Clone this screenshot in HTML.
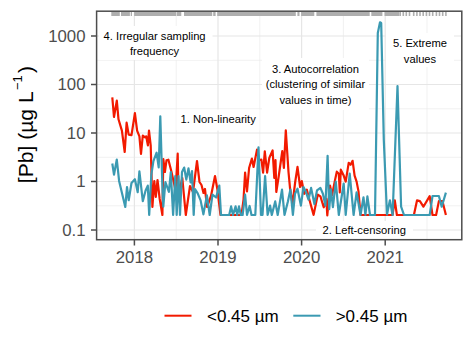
<!DOCTYPE html>
<html><head><meta charset="utf-8">
<style>
html,body{margin:0;padding:0;background:#fff;}
body{width:474px;height:355px;overflow:hidden;position:relative;font-family:"Liberation Sans",sans-serif;}
svg{position:absolute;left:0;top:0;}
</style></head><body>
<svg width="474" height="355" viewBox="0 0 474 355" font-family="Liberation Sans, sans-serif">
<rect x="0" y="0" width="474" height="355" fill="#fff"/>
<g id="grid" fill="none">
<g stroke="#EBEBEB" stroke-width="0.7">
<line x1="96.5" x2="461.5" y1="60.25" y2="60.25"/>
<line x1="96.5" x2="461.5" y1="108.75" y2="108.75"/>
<line x1="96.5" x2="461.5" y1="157.25" y2="157.25"/>
<line x1="96.5" x2="461.5" y1="205.75" y2="205.75"/>
<line y1="11" y2="240" x1="176.2" x2="176.2"/>
<line y1="11" y2="240" x1="259.8" x2="259.8"/>
<line y1="11" y2="240" x1="343.4" x2="343.4"/>
<line y1="11" y2="240" x1="427" x2="427"/>
</g>
<g stroke="#E6E6E6" stroke-width="1.2">
<line x1="96.5" x2="461.5" y1="36" y2="36"/>
<line x1="96.5" x2="461.5" y1="84.5" y2="84.5"/>
<line x1="96.5" x2="461.5" y1="133" y2="133"/>
<line x1="96.5" x2="461.5" y1="181.5" y2="181.5"/>
<line x1="96.5" x2="461.5" y1="230" y2="230"/>
<line y1="11" y2="240" x1="134.4" x2="134.4"/>
<line y1="11" y2="240" x1="218" x2="218"/>
<line y1="11" y2="240" x1="301.6" x2="301.6"/>
<line y1="11" y2="240" x1="385.2" x2="385.2"/>
</g>
</g>
<g id="data" fill="none" stroke-linejoin="round" stroke-linecap="butt" stroke-width="2.2">
<polyline stroke="#F21A00" points="112.3,97.3 114,117 116.8,100.7 118.5,119.3 121.9,130.6 124.7,152 126.6,122.7 128.7,134.6 131.5,135.1 134.9,113.1 137.1,130.6 139.4,136.3 141,154 142.8,135.5 145.1,137.4 146.2,136.3 147.9,145.3 149,130.6 150.7,145.3 152.4,207 154.3,181 155.8,197 157.5,180 159.7,199 162.4,215 163.3,159 164.9,172 166.5,160.4 168.4,159.7 171.4,171.6 175.6,190.6 177.7,153.7 178.5,194.7 182.3,178 185.8,215 190,186 193,192 197,161 199.5,182 201.5,185 203.5,193 205,189 207,207 211,196 215,176 217.5,190 220.5,215 241.5,215 243.5,200 245.1,172.6 247,191.5 249.1,168 251.9,158.6 253.6,167 257,149.6 259.2,160 261.4,159.7 263.1,172.6 264.8,151.3 267.1,172.6 269.3,158 272.6,150.4 274.3,178 275.5,160 276.3,192 278.6,177 282.3,151 283.9,168 285.8,130.3 288.5,172 290,188 292.5,204 295.2,182 297.5,166.8 300.1,187 301.8,181.1 304.3,193.8 306.8,189.6 309.4,199.7 313.6,214.9 317.8,194.6 320.4,196.3 323.7,207.3 326.3,198.9 327.3,215.5 330,185.5 332,195.4 334.9,180.6 336.8,171.7 338.8,173.7 339.8,192.4 340.8,169.7 343.7,175.6 345.7,181.6 348.7,162.8 350.6,164.8 352.6,160.8 354.6,175.6 356.6,181.6 358.5,191.4 360.5,215 392.5,215 394.8,200.3 396.9,215 413.9,215 417,200.4 419.9,201.1 423.4,206.7 429.7,196.1 432.5,215 436.1,215 438.9,201.1 442.4,201 445.9,215"/>
<polyline stroke="#3B9AB2" points="112.3,163.5 114,174.7 116.8,159.5 119.1,180.9 125.3,207 127,187 128.7,200.2 131.5,183 134.9,179.2 137.7,192.2 139.4,171.3 142.8,201.1 145.6,190.5 147.8,185.6 149.2,215 151.3,175 153.4,161.1 156.6,152.7 158.7,167.4 160.3,116.3 162.5,190 163.3,206.7 165.4,182 168.9,191.9 170.8,172 173.1,215 175.3,176 176.7,215 178.5,176 180,215 182,172 184.2,167.6 186.3,179.6 188.5,168.3 190.6,182.4 192,171.1 193.7,215 195,189.1 197.7,193.3 200.6,200.4 203.4,214.4 206.9,195.4 209.7,215 212.5,194.7 216.1,197.5 219.3,185.6 221,215 229.2,215 231.1,206.4 233,215 235.6,206.4 237.2,215 239,206.4 240.8,215 242.6,215 245.1,194.7 247,215 249.6,206 251.5,215 255.3,215 258.5,147.3 261,215 262.5,215 265.1,176 267.6,215 270.1,205.6 271.8,215 275.2,201.4 277.7,215 282,189.6 284.5,215 287.9,201.4 290.4,189.6 292.9,215 295,193.8 297.5,188.7 300.9,205.6 303.5,187 306,192.1 308.5,199.7 311.1,187.9 314.4,204 317,190.4 320.4,187.9 322.9,193.8 325.4,205.6 327.6,155.8 329.2,209.2 330.9,189.4 332.9,207.2 335.8,181.6 338.8,215 343.7,183.5 345.7,215 349.7,173.7 353.6,215 356.6,192.4 358.5,203.3 360.5,215 363.5,197.3 365.4,215 367.4,196.3 370,215 372,215 375,215 377.8,33 380,22.3 381.2,23 383.8,140 387,214.5 389.9,200.3 392.6,215 397.5,86 401.1,206.6 404,215 429.7,215 432.5,196 438.9,196 441.7,206.7 445.9,192.6"/>
</g>
<g id="rug" fill="#AEAEAE"><rect x="111.3" y="11.8" width="8.50" height="4.2"/><rect x="121" y="11.8" width="8.90" height="4.2"/><rect x="130.7" y="11.8" width="1.30" height="4.2"/><rect x="134.1" y="11.8" width="42.30" height="4.2"/><rect x="177" y="11.8" width="4.30" height="4.2"/><rect x="184" y="11.8" width="28.20" height="4.2"/><rect x="213.2" y="11.8" width="2.40" height="4.2"/><rect x="217.2" y="11.8" width="78.60" height="4.2"/><rect x="297.4" y="11.8" width="2.10" height="4.2"/><rect x="301.1" y="11.8" width="13.20" height="4.2"/><rect x="316.4" y="11.8" width="53.30" height="4.2"/><rect x="371.3" y="11.8" width="11.10" height="4.2"/><rect x="384.5" y="11.8" width="14.80" height="4.2"/><rect x="399.40" y="11.8" width="1.6" height="4.2"/><rect x="402.50" y="11.8" width="1.6" height="4.2"/><rect x="405.50" y="11.8" width="1.6" height="4.2"/><rect x="408.70" y="11.8" width="1.6" height="4.2"/><rect x="412.90" y="11.8" width="1.6" height="4.2"/><rect x="416.10" y="11.8" width="1.6" height="4.2"/><rect x="419.20" y="11.8" width="1.6" height="4.2"/><rect x="422.40" y="11.8" width="1.6" height="4.2"/><rect x="425.60" y="11.8" width="1.6" height="4.2"/><rect x="428.70" y="11.8" width="1.6" height="4.2"/><rect x="431.90" y="11.8" width="1.6" height="4.2"/><rect x="435.60" y="11.8" width="1.6" height="4.2"/><rect x="438.70" y="11.8" width="1.6" height="4.2"/><rect x="441.90" y="11.8" width="1.6" height="4.2"/><rect x="445.10" y="11.8" width="1.6" height="4.2"/></g>
<g id="labels">
<g fill="#fff">
<rect x="99" y="26" width="113.5" height="34"/>
<rect x="262" y="58" width="107" height="52"/>
<rect x="386" y="33" width="68" height="34"/>
<rect x="176.5" y="109.5" width="83" height="21"/>
<rect x="316" y="221" width="97" height="18"/>
</g>
<g fill="#000" font-size="11.2" text-anchor="middle">
<text x="154.6" y="39.5">4. Irregular sampling</text>
<text x="154.6" y="54.9">frequency</text>
<text x="315.5" y="72.6">3. Autocorrelation</text>
<text x="315.5" y="88.3">(clustering of similar</text>
<text x="315.5" y="104.1">values in time)</text>
<text x="420" y="47.2">5. Extreme</text>
<text x="420" y="62.6">values</text>
<text x="218.2" y="122.8">1. Non-linearity</text>
<text x="364.2" y="234.2">2. Left-censoring</text>
</g>
</g>
<rect x="96.6" y="11.2" width="365.2" height="228.5" fill="none" stroke="#4D4D4D" stroke-width="1.5"/>
<g stroke="#4D4D4D" stroke-width="1.5">
<line x1="91" x2="96.5" y1="36" y2="36"/>
<line x1="91" x2="96.5" y1="84.5" y2="84.5"/>
<line x1="91" x2="96.5" y1="133" y2="133"/>
<line x1="91" x2="96.5" y1="181.5" y2="181.5"/>
<line x1="91" x2="96.5" y1="230" y2="230"/>
<line y1="240" y2="245.5" x1="134.4" x2="134.4"/>
<line y1="240" y2="245.5" x1="218" x2="218"/>
<line y1="240" y2="245.5" x1="301.6" x2="301.6"/>
<line y1="240" y2="245.5" x1="385.2" x2="385.2"/>
</g>
<g fill="#4D4D4D" font-size="16.8" text-anchor="end">
<text x="85.5" y="41.7">1000</text>
<text x="85.5" y="90.2">100</text>
<text x="85.5" y="138.7">10</text>
<text x="85.5" y="187.2">1</text>
<text x="85.5" y="235.7">0.1</text>
</g>
<g fill="#4D4D4D" font-size="16.8" text-anchor="middle">
<text x="134.4" y="262.5">2018</text>
<text x="218" y="262.5">2019</text>
<text x="301.6" y="262.5">2020</text>
<text x="385.2" y="262.5">2021</text>
</g>
<text transform="translate(32.8,183.2) rotate(-90)" font-size="21.1" fill="#000">[Pb] (µg L<tspan font-size="13" dy="-10.5" dx="1.2">−1</tspan><tspan dy="10.5" dx="2.2">)</tspan></text>
<line x1="164.5" x2="191.5" y1="315.7" y2="315.7" stroke="#F21A00" stroke-width="2"/>
<text x="207" y="321.8" font-size="17" fill="#000">&lt;0.45 µm</text>
<line x1="293.3" x2="320.5" y1="315.7" y2="315.7" stroke="#3B9AB2" stroke-width="2"/>
<text x="335.7" y="321.8" font-size="17" fill="#000">&gt;0.45 µm</text>
</svg>
</body></html>
